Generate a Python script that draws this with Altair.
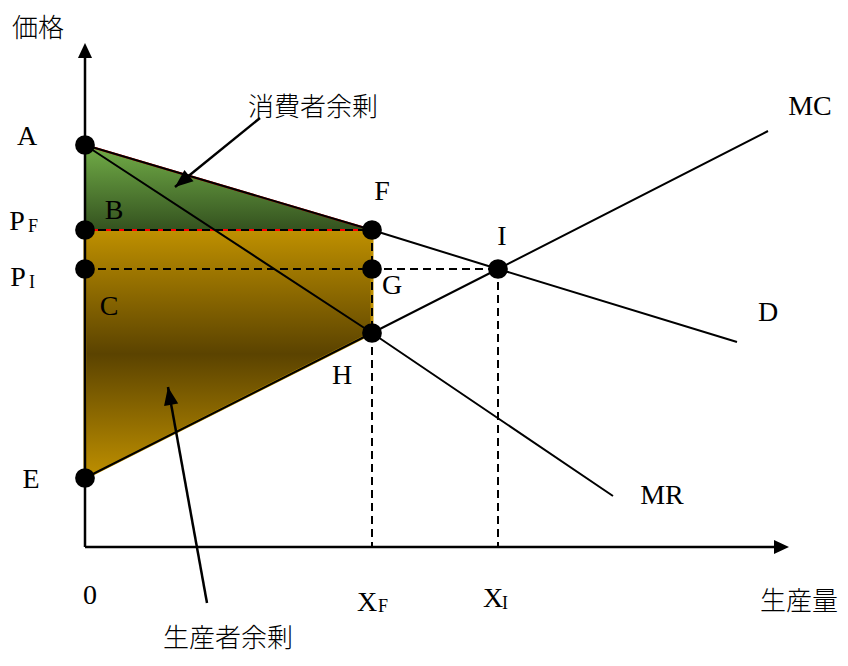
import altair as alt
import pandas as pd

# ---------------- data (diagram units, origin at O) ----------------
# demand curve D, marginal revenue MR, marginal cost MC
D_x = [0, 287, 413, 652]
D_y = [402, 317, 278, 205]
MR_x = [0, 287, 528]
MR_y = [402, 214, 51]
MC_x = [0, 287, 413, 683]
MC_y = [69, 214, 278, 416]

# key points
pt_names = ["A", "PF", "PI", "E", "F", "G", "H", "I"]
pt_x = [0, 0, 0, 0, 287, 287, 287, 413]
pt_y = [402, 317, 278, 69, 317, 278, 214, 278]

# consumer surplus (triangle A-PF-F) and producer surplus (PF-F-H-E)
cs_x = [0, 287]
cs_top = [402, 317]
cs_bot = [317, 317]
ps_x = [0, 287]
ps_top = [317, 317]
ps_bot = [69, 214]

# dashed guide lines
dash_x = [0, 0, 287, 413]
dash_y = [317, 278, 317, 278]
dash_x2 = [287, 413, 287, 413]
dash_y2 = [317, 278, 0, 0]

# axes lines and arrow tips
axis_x = [0, 0]
axis_y = [0, 0]
axis_x2 = [0, 690]
axis_y2 = [490, 0]
tip_x = [0, 704]
tip_y = [504, 0]
tip_angle = [0, 90]

# annotation arrows (tail -> head)
ann_x = [175, 122]
ann_y = [429, -56]
ann_x2 = [90, 83]
ann_y2 = [360, 160]
ann_angle = [231, 350]

# labels
big_text = ["A", "P", "P", "B", "C", "E", "0", "F", "G", "H", "I", "MC", "D", "MR", "X", "X"]
big_x = [-58, -68, -67, 29, 24, -54, 5, 297, 307, 257, 417, 725, 683, 577, 282, 408]
big_y = [410, 325, 269, 336, 240, 67, -49, 355, 261, 171, 310, 440, 234, 51, -56, -52]
sub_text = ["F", "I", "F", "I"]
sub_x = [-52, -53, 298, 420]
sub_y = [320, 264, -60, -57]
jp_text = ["価格", "消費者余剰", "生産者余剰", "生産量"]
jp_x = [-47, 228, 143, 714]
jp_y = [518, 439, -92, -55]

# ---------------- build ----------------
xs = alt.Scale(domain=[-77, 755], nice=False, zero=False)
ys = alt.Scale(domain=[-111, 539], nice=False, zero=False)
X = lambda f="x": alt.X(f"{f}:Q", scale=xs, axis=None)
Y = lambda f="y": alt.Y(f"{f}:Q", scale=ys, axis=None)

curves = pd.DataFrame(
    [{"curve": "D", "i": i, "x": a, "y": b} for i, (a, b) in enumerate(zip(D_x, D_y))]
    + [{"curve": "MR", "i": i, "x": a, "y": b} for i, (a, b) in enumerate(zip(MR_x, MR_y))]
    + [{"curve": "MC", "i": i, "x": a, "y": b} for i, (a, b) in enumerate(zip(MC_x, MC_y))]
)

green = alt.Gradient(
    gradient="linear",
    stops=[alt.GradientStop(color="#72ae48", offset=0),
           alt.GradientStop(color="#34521f", offset=1)],
    x1=0, x2=0, y1=0, y2=1,
)
gold = alt.Gradient(
    gradient="linear",
    stops=[alt.GradientStop(color="#bf9000", offset=0),
           alt.GradientStop(color="#5b4300", offset=0.5),
           alt.GradientStop(color="#bf9000", offset=1)],
    x1=0, x2=0, y1=0, y2=1,
)

ps_area = alt.Chart(pd.DataFrame({"x": ps_x, "y": ps_top, "y2": ps_bot})).mark_area(
    fill=gold, stroke="#bf9000", strokeWidth=3, opacity=1
).encode(x=X(), y=Y(), y2="y2:Q")

cs_area = alt.Chart(pd.DataFrame({"x": cs_x, "y": cs_top, "y2": cs_bot})).mark_area(
    fill=green, stroke="red", strokeWidth=2, opacity=1
).encode(x=X(), y=Y(), y2="y2:Q")

dashes = alt.Chart(pd.DataFrame({"x": dash_x, "y": dash_y, "x2": dash_x2, "y2": dash_y2})).mark_rule(
    color="black", strokeWidth=2, strokeDash=[8, 5]
).encode(x=X(), y=Y(), x2="x2:Q", y2="y2:Q")

lines = alt.Chart(curves).mark_line(color="black", strokeWidth=2).encode(
    x=X(), y=Y(), detail="curve:N", order="i:Q"
)

axes = alt.Chart(pd.DataFrame({"x": axis_x, "y": axis_y, "x2": axis_x2, "y2": axis_y2})).mark_rule(
    color="black", strokeWidth=2.5
).encode(x=X(), y=Y(), x2="x2:Q", y2="y2:Q")

tips = alt.Chart(pd.DataFrame({"x": tip_x, "y": tip_y, "angle": tip_angle})).mark_point(
    shape="M0,0 L0.47,1 L-0.47,1 Z", filled=True, color="black", opacity=1, size=900
).encode(x=X(), y=Y(), angle=alt.Angle("angle:Q", scale=None))

dots = alt.Chart(pd.DataFrame({"name": pt_names, "x": pt_x, "y": pt_y})).mark_circle(
    color="black", opacity=1, size=390
).encode(x=X(), y=Y())

ann_lines = alt.Chart(pd.DataFrame({"x": ann_x, "y": ann_y, "x2": ann_x2, "y2": ann_y2})).mark_rule(
    color="black", strokeWidth=2.5
).encode(x=X(), y=Y(), x2="x2:Q", y2="y2:Q")

ann_heads = alt.Chart(pd.DataFrame({"x": ann_x2, "y": ann_y2, "angle": ann_angle})).mark_point(
    shape="M0,0 L0.4,1 L-0.4,1 Z", filled=True, color="black", opacity=1, size=1296
).encode(x=X(), y=Y(), angle=alt.Angle("angle:Q", scale=None))

big = alt.Chart(pd.DataFrame({"t": big_text, "x": big_x, "y": big_y})).mark_text(
    font="Liberation Serif", fontSize=28, baseline="middle", align="center", color="black"
).encode(x=X(), y=Y(), text="t:N")

sub = alt.Chart(pd.DataFrame({"t": sub_text, "x": sub_x, "y": sub_y})).mark_text(
    font="Liberation Serif", fontSize=18, baseline="middle", align="center", color="black"
).encode(x=X(), y=Y(), text="t:N")

jp = alt.Chart(pd.DataFrame({"t": jp_text, "x": jp_x, "y": jp_y})).mark_text(
    font="Noto Sans CJK JP", fontSize=26, fontWeight=300, baseline="middle", align="center", color="black"
).encode(x=X(), y=Y(), text="t:N")

chart = alt.layer(
    ps_area, cs_area, dashes, lines, axes, tips, dots, ann_lines, ann_heads, big, sub, jp
).properties(
    width=832, height=650, autosize=alt.AutoSizeParams(type="none"), padding=0
).configure_view(strokeWidth=0)

chart.save("out.html", embed_options={"renderer": "svg", "actions": False})
